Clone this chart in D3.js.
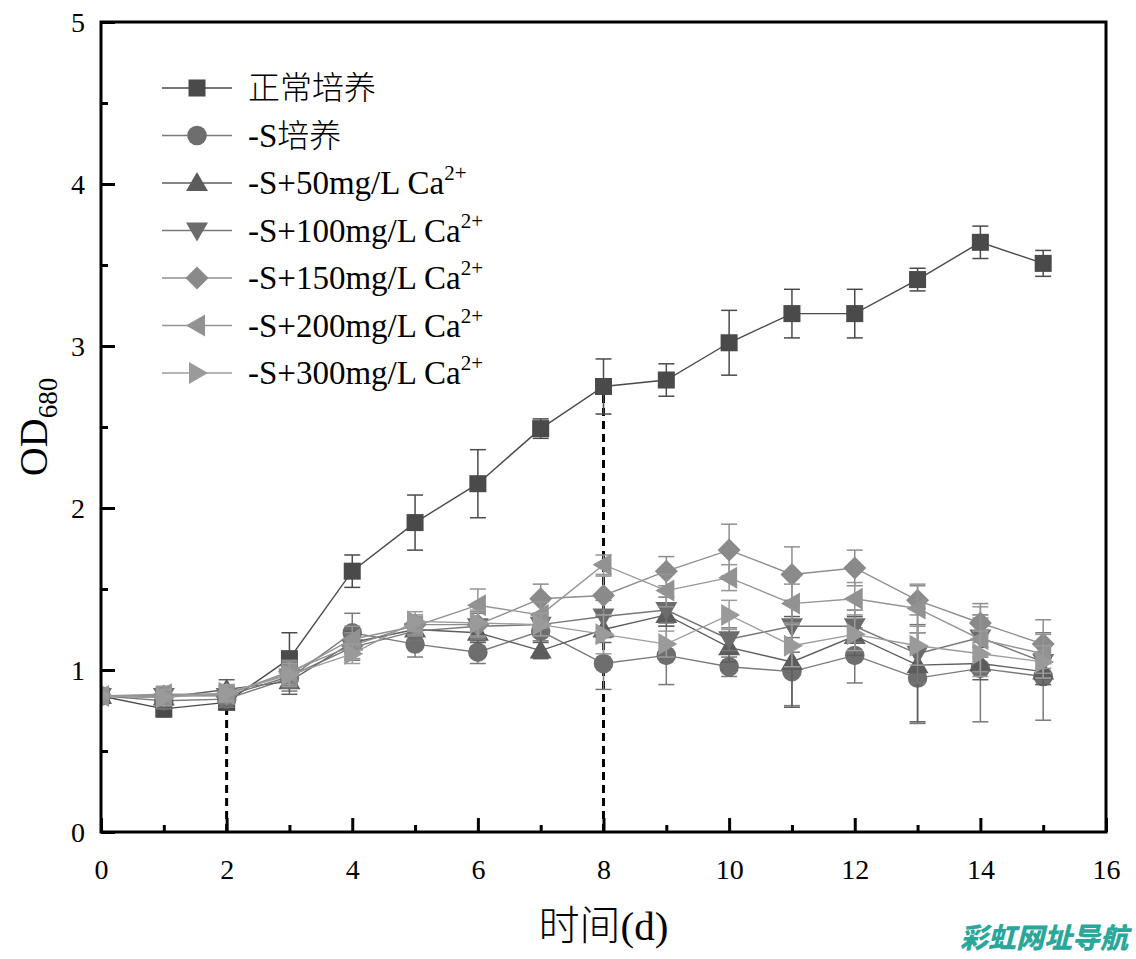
<!DOCTYPE html>
<html><head><meta charset="utf-8">
<script src="https://cdn.jsdelivr.net/npm/d3@7"></script>
<style>
html,body{margin:0;padding:0;background:#fff;}
svg text{font-family:"Liberation Serif","DejaVu Serif","Noto Serif",serif;}
</style></head>
<body>
<svg id="chart" width="1136" height="959"></svg>
<script>
const days = [0,1,2,3,4,5,6,7,8,9,10,11,12,13,14,15];
const seriesNames = ["正常培养","-S培养","-S+50mg/L Ca","-S+100mg/L Ca","-S+150mg/L Ca","-S+200mg/L Ca","-S+300mg/L Ca"];
const normal    = [0.84,0.76,0.80,1.07,1.61,1.91,2.15,2.49,2.75,2.79,3.02,3.20,3.20,3.41,3.64,3.51];
const normalErr = [0.03,0.05,0.04,0.16,0.10,0.17,0.21,0.06,0.17,0.10,0.20,0.15,0.15,0.07,0.10,0.08];
const minusS    = [0.84,0.81,0.82,0.95,1.23,1.16,1.11,1.24,1.04,1.09,1.02,0.99,1.09,0.95,1.01,0.96];
const minusSErr = [0.03,0.05,0.05,0.08,0.12,0.08,0.07,0.06,0.16,0.18,0.06,0.21,0.17,0.28,0.33,0.27];
const ca50      = [0.84,0.83,0.88,0.93,1.17,1.25,1.23,1.12,1.25,1.34,1.14,1.05,1.21,1.03,1.04,0.99];
const ca50Err   = [0.02,0.06,0.06,0.08,0.07,0.07,0.06,0.05,0.08,0.07,0.09,0.28,0.12,0.35,0.10,0.08];
const ca100     = [0.84,0.84,0.84,0.96,1.14,1.24,1.27,1.28,1.33,1.37,1.19,1.27,1.27,1.10,1.20,1.05];
const ca100Err  = [0.02,0.05,0.05,0.07,0.08,0.06,0.08,0.07,0.10,0.08,0.07,0.16,0.10,0.18,0.12,0.10];
const ca150     = [0.84,0.84,0.85,0.99,1.15,1.28,1.28,1.44,1.46,1.61,1.74,1.59,1.63,1.43,1.29,1.16];
const ca150Err  = [0.02,0.05,0.05,0.07,0.08,0.06,0.08,0.09,0.12,0.09,0.16,0.17,0.11,0.09,0.12,0.15];
const ca200     = [0.84,0.85,0.85,0.98,1.19,1.27,1.40,1.34,1.65,1.49,1.57,1.41,1.44,1.38,1.19,1.10];
const ca200Err  = [0.02,0.05,0.05,0.07,0.08,0.06,0.10,0.08,0.06,0.10,0.08,0.12,0.10,0.15,0.20,0.12];
const ca300     = [0.84,0.83,0.86,0.97,1.10,1.30,1.29,1.28,1.22,1.16,1.34,1.15,1.22,1.15,1.10,1.05];
const ca300Err  = [0.02,0.05,0.05,0.07,0.06,0.06,0.08,0.07,0.12,0.08,0.09,0.13,0.10,0.12,0.14,0.10];
const xTicks = [0,2,4,6,8,10,12,14,16];
const yTicks = [0,1,2,3,4,5];
const dashedAt = [2,8];

const values = [normal,minusS,ca50,ca100,ca150,ca200,ca300];
const errs = [normalErr,minusSErr,ca50Err,ca100Err,ca150Err,ca200Err,ca300Err];
const fills = ["#4a4a4a","#6e6e6e","#5c5c5c","#6c6c6c","#8a8a8a","#929292","#9a9a9a"];
const lineCols = ["#4a4a4a","#7a7a7a","#5e5e5e","#777","#8e8e8e","#959595","#9c9c9c"];
const shapes = ["square","circle","up","down","diamond","left","right"];

const SERIF = '"Liberation Serif","DejaVu Serif","Noto Serif",serif';
const CJK = '"Noto Sans CJK SC",sans-serif';

const L=101,R=1106,T=22,B=832;
const x = d3.scaleLinear().domain([0,16]).range([L,R]);
const y = d3.scaleLinear().domain([0,5]).range([B,T]);
const svg = d3.select("#chart");

svg.append("defs").append("clipPath").attr("id","clip")
  .append("rect").attr("x",L).attr("y",T).attr("width",R-L).attr("height",B-T);

function markerPath(shape){
  switch(shape){
    case "square": return d3.symbol(d3.symbolSquare, 290)();
    case "circle": return d3.symbol(d3.symbolCircle, 300)();
    case "up": return "M0,-11L11,8L-11,8Z";
    case "down": return "M0,11L11,-8L-11,-8Z";
    case "diamond": return "M0,-11.5L11.5,0L0,11.5L-11.5,0Z";
    case "left": return "M-11,0L8,-11L8,11Z";
    case "right": return "M11,0L-8,-11L-8,11Z";
  }
}

const plot = svg.append("g").attr("clip-path","url(#clip)");

dashedAt.forEach(d=>{
  plot.append("line").attr("x1",x(d)).attr("x2",x(d))
    .attr("y1",y(0)).attr("y2",y(normal[days.indexOf(d)]))
    .attr("stroke","#000").attr("stroke-width",3).attr("stroke-dasharray","8,5");
});

const line = d3.line().x((d,i)=>x(days[i])).y(d=>y(d));
values.forEach((vals,s)=>{
  const g = plot.append("g");
  vals.forEach((v,i)=>{
    const e = errs[s][i], cx = x(days[i]);
    g.append("line").attr("x1",cx).attr("x2",cx).attr("y1",y(v+e)).attr("y2",y(v-e))
      .attr("stroke",lineCols[s]).attr("stroke-width",1.5);
    [v+e,v-e].forEach(b=>g.append("line").attr("x1",cx-8).attr("x2",cx+8).attr("y1",y(b)).attr("y2",y(b))
      .attr("stroke",lineCols[s]).attr("stroke-width",1.5));
  });
  g.append("path").attr("d",line(vals)).attr("fill","none")
    .attr("stroke",lineCols[s]).attr("stroke-width",1.4);
  g.selectAll("path.m").data(vals).enter().append("path").attr("class","m")
    .attr("d",markerPath(shapes[s]))
    .attr("transform",(d,i)=>`translate(${x(days[i])},${y(d)})`)
    .attr("fill",fills[s]);
});

svg.append("rect").attr("x",L).attr("y",T).attr("width",R-L).attr("height",B-T)
  .attr("fill","none").attr("stroke","#000").attr("stroke-width",3);

const xAxis = svg.append("g").attr("transform",`translate(0,${B})`)
  .call(d3.axisBottom(x).tickValues(xTicks).tickSize(-14).tickPadding(0).tickFormat(d3.format("d")));
const yAxis = svg.append("g").attr("transform",`translate(${L},0)`)
  .call(d3.axisLeft(y).tickValues(yTicks).tickSize(-14).tickPadding(0).tickFormat(d3.format("d")));
[xAxis,yAxis].forEach(a=>{
  a.attr("font-family",SERIF).attr("font-size",28);
  a.select(".domain").remove();
  a.selectAll(".tick line").attr("stroke","#000").attr("stroke-width",3);
  a.selectAll("text").attr("fill","#000").attr("font-family",SERIF).style("font-size","28px").style("font-family",SERIF);
});
xAxis.selectAll("text").attr("y",47).attr("dy",0);
yAxis.selectAll("text").attr("x",-16).attr("dy","0.35em").attr("text-anchor","end");
svg.append("g").attr("transform",`translate(0,${B})`)
  .call(d3.axisBottom(x).tickValues(d3.range(1,16,2)).tickSize(-7).tickFormat(""))
  .call(a=>{a.select(".domain").remove();a.selectAll("line").attr("stroke","#000").attr("stroke-width",3);});
svg.append("g").attr("transform",`translate(${L},0)`)
  .call(d3.axisLeft(y).tickValues([0.5,1.5,2.5,3.5,4.5]).tickSize(-7).tickFormat(""))
  .call(a=>{a.select(".domain").remove();a.selectAll("line").attr("stroke","#000").attr("stroke-width",3);});

const xt = svg.append("text").attr("x",(L+R)/2).attr("y",940).attr("text-anchor","middle")
  .style("font-size","41px").attr("fill","#000");
xt.append("tspan").style("font-family",CJK).style("font-weight","300").text("时间");
xt.append("tspan").style("font-family",SERIF).text("(d)");
const yt = svg.append("text").attr("transform",`translate(47,${(T+B)/2}) rotate(-90)`)
  .attr("text-anchor","middle").style("font-size","40px").style("font-family",SERIF).attr("fill","#000");
yt.append("tspan").text("OD");
yt.append("tspan").attr("dy",10).style("font-size","27px").text("680");

const leg = svg.append("g");
seriesNames.forEach((n,s)=>{
  const ly = 88 + s*47.5;
  leg.append("line").attr("x1",162).attr("x2",232).attr("y1",ly).attr("y2",ly)
    .attr("stroke",lineCols[s]).attr("stroke-width",1.4);
  leg.append("path").attr("d",markerPath(shapes[s])).attr("transform",`translate(197,${ly})`).attr("fill",fills[s]);
  const t = leg.append("text").attr("x",248).attr("y",ly+11).style("font-size","33px")
    .style("font-family",SERIF).attr("fill","#000");
  if(s===0){
    t.append("tspan").style("font-family",CJK).style("font-weight","300").style("font-size","32px").text(n);
  } else if(s===1){
    t.append("tspan").text("-S");
    t.append("tspan").style("font-family",CJK).style("font-weight","300").style("font-size","32px").text("培养");
  } else {
    t.append("tspan").text(n);
    t.append("tspan").attr("dy",-14).style("font-size","21px").text("2+");
  }
});

svg.append("text").attr("x",960).attr("y",948)
  .style("font-family",CJK).style("font-weight","900")
  .style("font-style","italic").style("font-size","28px").attr("fill","#2aa79a")
  .text("彩虹网址导航");
</script>
</body></html>
